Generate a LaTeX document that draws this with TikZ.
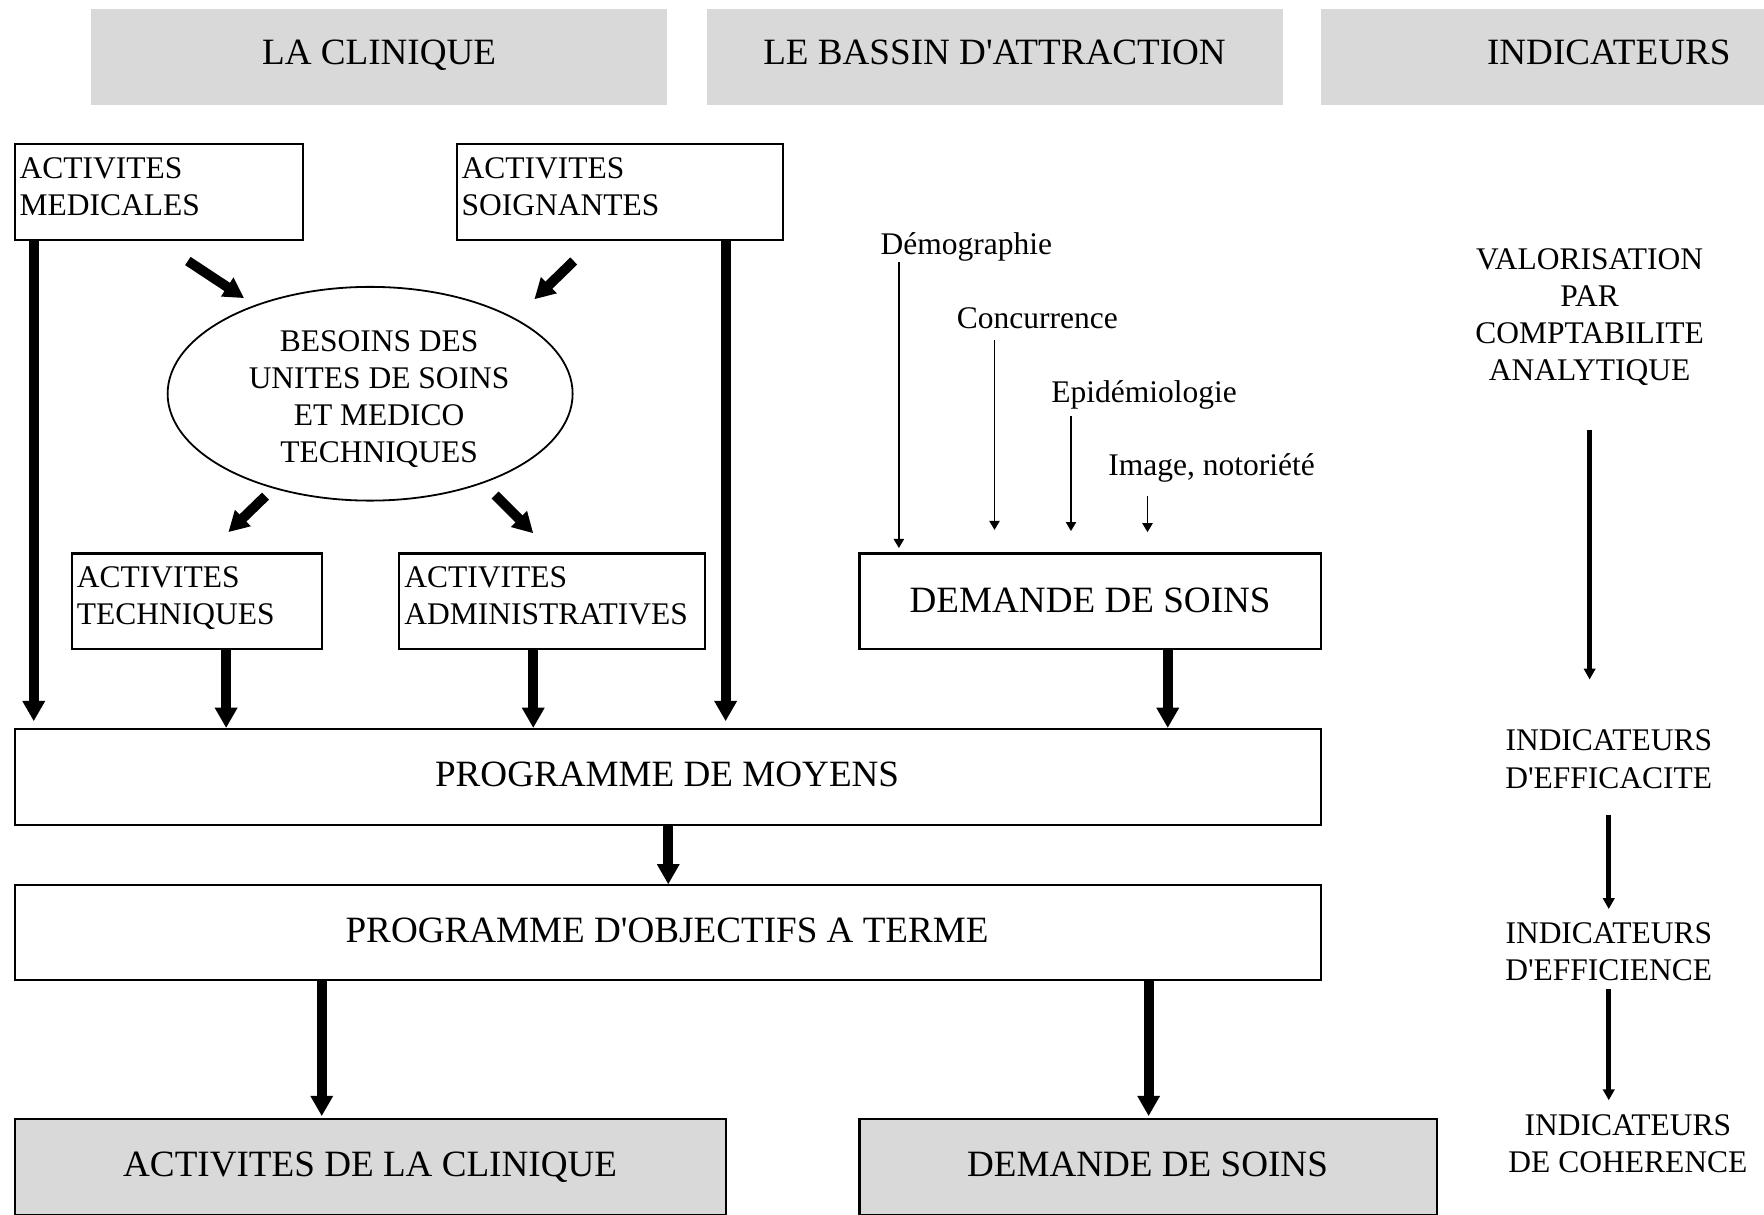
\documentclass[tikz,border=0pt]{standalone}
\usepackage{fontspec}
\setmainfont{Liberation Serif}
\usetikzlibrary{arrows.meta,fit,shapes.geometric}
\definecolor{panel}{HTML}{D9D9D9}
\newcommand\fsBig{\fontsize{16.5}{19.8}\selectfont}
\newcommand\fsSmall{\fontsize{14}{16.5}\selectfont}
\tikzset{
  framebox/.style={draw, line width=0.9pt, inner sep=0pt},
  shadedbox/.style={framebox, fill=panel},
  headerbox/.style={fill=panel, draw=none, inner sep=0pt},
  lblbig/.style={font=\fsBig, inner sep=0pt, anchor=base},
  lblsmall/.style={font=\fsSmall, inner sep=0pt, anchor=base},
  stacktext/.style={font=\fsSmall, inner sep=0pt, align=center, anchor=north},
  boxtext/.style={font=\fsSmall, inner sep=0pt, align=left, anchor=north west},
  arrowheavy/.style={line width=4.4pt, -{Triangle[length=9pt,width=9.5pt]}},
  arrowmid/.style={line width=2.2pt, -{Triangle[length=4.8pt,width=5pt]}},
  arrowthin/.style={line width=0.6pt, -{Triangle[length=4pt,width=4.6pt]}},
}
\begin{document}
\begin{tikzpicture}[x=0.5pt,y=-0.5pt]
\useasboundingbox (0,0) rectangle (1568,1080);

% column headers
\node[headerbox, fit={(81,8) (593,93)}] (h1) {};
\node[headerbox, fit={(628,8) (1140,93)}] (h2) {};
\node[headerbox, fit={(1174,8) (1686,93)}] (h3) {};
\node[lblbig] (h1t) at (337,57) {LA CLINIQUE};
\node[lblbig] (h2t) at (884,57) {LE BASSIN D\textquotesingle ATTRACTION};
\node[lblbig] (h3t) at (1430,57) {INDICATEURS};

% clinic activities
\node[framebox, fit={(13,128) (269,213)}] (med) {};
\node[boxtext] (medt) at (17,135) {\strut ACTIVITES\\MEDICALES};
\node[framebox, fit={(406,128) (696,213)}] (soi) {};
\node[boxtext] (soit) at (410,135) {\strut ACTIVITES\\SOIGNANTES};

\node[draw, ellipse, line width=0.8pt, inner sep=0pt,
      minimum width=180pt, minimum height=95pt] (bes) at (329,350) {};
\node[stacktext] (best) at (337,289)
  {\strut BESOINS DES\\UNITES DE SOINS\\ET MEDICO\\TECHNIQUES};

\node[framebox, fit={(64,492) (286,577)}] (tec) {};
\node[boxtext] (tect) at (68,499) {\strut ACTIVITES\\TECHNIQUES};
\node[framebox, fit={(355,492) (627,577)}] (adm) {};
\node[boxtext] (admt) at (359,499) {\strut ACTIVITES\\ADMINISTRATIVES};

% catchment area
\node[framebox, fit={(764,492) (1174,577)}] (dem) {};
\node[lblbig] (demt) at (969,544) {DEMANDE DE SOINS};
\node[lblsmall] (demo) at (859,226) {Démographie};
\node[lblsmall] (conc) at (922,292) {Concurrence};
\node[lblsmall] (epid) at (1017,358) {Epidémiologie};
\node[lblsmall] (imag) at (1077,423) {Image, notoriété};

% programmes
\node[framebox, fit={(13,648) (1174,733)}] (prog) {};
\node[lblbig] (progt) at (593,699) {PROGRAMME DE MOYENS};
\node[framebox, fit={(13,787) (1174,871)}] (obj) {};
\node[lblbig] (objt) at (593,838) {PROGRAMME D\textquotesingle OBJECTIFS A TERME};

% outcomes
\node[shadedbox, fit={(13,995) (645,1080)}] (act) {};
\node[lblbig] (actt) at (329,1046) {ACTIVITES DE LA CLINIQUE};
\node[shadedbox, fit={(764,995) (1277,1080)}] (dem2) {};
\node[lblbig] (dem2t) at (1020,1046) {DEMANDE DE SOINS};

% indicators
\node[stacktext] (valo) at (1413,216)
  {\strut VALORISATION\\PAR\\COMPTABILITE\\ANALYTIQUE};
\node[stacktext] (effa) at (1430,644) {\strut INDICATEURS\\D\textquotesingle EFFICACITE};
\node[stacktext] (effi) at (1430,815) {\strut INDICATEURS\\D\textquotesingle EFFICIENCE};
\node[stacktext] (cohe) at (1447,986) {\strut INDICATEURS\\DE COHERENCE};

% reference positions for the connectors
\coordinate (x30) at (30,0);
\coordinate (x201) at (201,0);
\coordinate (x474) at (474,0);
\coordinate (x645) at (645,0);
\coordinate (x1038) at (1038,0);
\coordinate (x594) at (594,0);
\coordinate (x286) at (286,0);
\coordinate (x1021) at (1021,0);

\coordinate (d1a) at (167,232); \coordinate (d1b) at (217,265);
\coordinate (d2a) at (510,232); \coordinate (d2b) at (475,266);
\coordinate (d3a) at (236,441); \coordinate (d3b) at (203,473);
\coordinate (d4a) at (440,440); \coordinate (d4b) at (474,474);

\coordinate (t1) at (799,233);
\coordinate (t2a) at (884,302); \coordinate (t2b) at (884,471);
\coordinate (t3a) at (952,370); \coordinate (t3b) at (952,472);
\coordinate (t4a) at (1020,441); \coordinate (t4b) at (1020,473);

\coordinate (v1a) at (1413,382); \coordinate (v1b) at (1413,604);
\coordinate (v2a) at (1430,724); \coordinate (v2b) at (1430,808);
\coordinate (v3a) at (1430,879); \coordinate (v3b) at (1430,978);

% heavy flows
\draw[arrowheavy, shorten >=3pt] (med.south -| x30) -- (prog.north -| x30);
\draw[arrowheavy] (tec.south -| x201) -- (prog.north -| x201);
\draw[arrowheavy] (adm.south -| x474) -- (prog.north -| x474);
\draw[arrowheavy, shorten >=3pt] (soi.south -| x645) -- (prog.north -| x645);
\draw[arrowheavy] (dem.south -| x1038) -- (prog.north -| x1038);
\draw[arrowheavy] (prog.south -| x594) -- (obj.north -| x594);
\draw[arrowheavy, shorten >=1pt] (obj.south -| x286) -- (act.north -| x286);
\draw[arrowheavy, shorten >=1pt] (obj.south -| x1021) -- (dem2.north -| x1021);

\draw[arrowheavy] (d1a) -- (d1b);
\draw[arrowheavy] (d2a) -- (d2b);
\draw[arrowheavy] (d3a) -- (d3b);
\draw[arrowheavy] (d4a) -- (d4b);

% demand factors
\draw[arrowthin, shorten >=2pt] (t1) -- (dem.north -| t1);
\draw[arrowthin] (t2a) -- (t2b);
\draw[arrowthin] (t3a) -- (t3b);
\draw[arrowthin] (t4a) -- (t4b);

% indicator chain
\draw[arrowmid] (v1a) -- (v1b);
\draw[arrowmid] (v2a) -- (v2b);
\draw[arrowmid] (v3a) -- (v3b);
\end{tikzpicture}
\end{document}
